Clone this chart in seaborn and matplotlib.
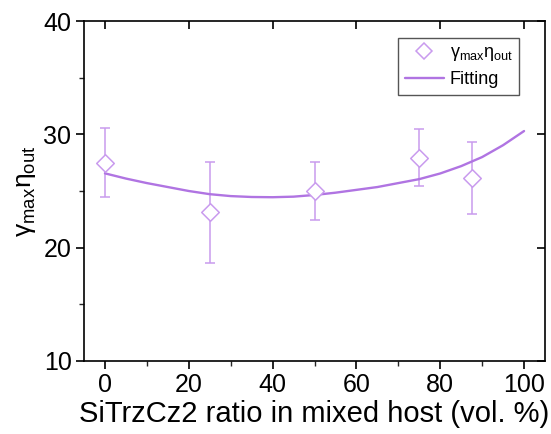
import matplotlib
matplotlib.use("Agg")
import matplotlib.pyplot as plt
import seaborn as sns
import pandas as pd
from matplotlib.lines import Line2D
from matplotlib.ticker import MultipleLocator

# data
ratio = [0, 25, 50, 75, 87.5]
gamma_eta = [27.5, 23.1, 25.0, 27.95, 26.15]
err = [3.05, 4.5, 2.6, 2.5, 3.2]

fit_x = [0, 5, 10, 15, 20, 25, 30, 35, 40, 45, 50, 55, 60, 65, 70, 75, 80, 85, 90, 95, 100]
fit_y = [26.56, 26.1, 25.7, 25.35, 25.0, 24.72, 24.55, 24.47, 24.45, 24.5, 24.65,
         24.85, 25.1, 25.35, 25.7, 26.05, 26.55, 27.2, 28.0, 29.05, 30.3]

x_ticks = [0, 20, 40, 60, 80, 100]
y_ticks = [10, 20, 30, 40]

sns.set_style("ticks")
plt.rcParams["font.family"] = ["Liberation Sans", "DejaVu Sans"]
plt.rcParams["mathtext.default"] = "regular"
plt.rcParams["text.color"] = "black"
plt.rcParams["axes.labelcolor"] = "black"

line_color = "#B074E2"
point_color = "#C99BEE"

fig = plt.figure(figsize=(5.51, 4.34), dpi=100)
ax = fig.add_axes([84 / 551, 1 - 360.7 / 434, (545 - 84) / 551, (360.7 - 21.3) / 434])

df_fit = pd.DataFrame({"x": fit_x, "y": fit_y})
df_pts = pd.DataFrame({"x": ratio, "y": gamma_eta, "e": err})

ax.errorbar(df_pts["x"], df_pts["y"], yerr=df_pts["e"], fmt="none",
            ecolor=point_color, elinewidth=1.1, capsize=3.5, capthick=1.1, zorder=2)
sns.lineplot(data=df_fit, x="x", y="y", ax=ax, color=line_color, lw=1.7, zorder=3)
sns.scatterplot(data=df_pts, x="x", y="y", ax=ax, marker="D", s=80,
                facecolor="white", edgecolor=point_color, linewidth=1.1, zorder=4)

ax.set_xlim(-5, 105)
ax.set_ylim(10, 40)
ax.set_xticks(x_ticks)
ax.set_yticks(y_ticks)
ax.xaxis.set_minor_locator(MultipleLocator(10))
ax.yaxis.set_minor_locator(MultipleLocator(5))
ax.tick_params(axis="both", which="major", direction="out", length=6, width=1.2,
               labelsize=18, colors="black", pad=3, top=False, right=False)
ax.tick_params(axis="both", which="minor", direction="out", length=3.5, width=1.0,
               top=False, right=False)
for spine in ax.spines.values():
    spine.set_visible(True)
    spine.set_linewidth(1.2)
    spine.set_color("black")

# mirrored inward ticks on top and right (overlay axes with transparent patch)
over = fig.add_axes(ax.get_position(), facecolor="none", zorder=5)
over.set_xlim(ax.get_xlim())
over.set_ylim(ax.get_ylim())
over.set_xticks(x_ticks)
over.set_yticks(y_ticks)
over.tick_params(axis="both", which="major", direction="in", length=6, width=1.2,
                 color="black", top=True, right=True, bottom=False, left=False,
                 labeltop=False, labelright=False, labelbottom=False, labelleft=False)
over.tick_params(axis="both", which="minor", top=False, right=False,
                 bottom=False, left=False)
for spine in over.spines.values():
    spine.set_visible(False)

ax.set_xlabel("SiTrzCz2 ratio in mixed host (vol. %)", fontsize=21, labelpad=2,
              color="black")
ax.set_ylabel(r"$\gamma_{max}\eta_{out}$", fontsize=19, labelpad=4, color="black")

handles = [
    Line2D([], [], marker="D", linestyle="none", markersize=8,
           markerfacecolor="white", markeredgecolor=point_color, markeredgewidth=1.1),
    Line2D([], [], color=line_color, lw=1.7),
]
labels = [r"$\gamma_{max}\eta_{out}$", "Fitting"]
leg = ax.legend(handles, labels, loc="upper right", fontsize=13, frameon=True,
                fancybox=False, edgecolor="#555555", framealpha=1,
                bbox_to_anchor=(0.944, 0.951), borderaxespad=0,
                handlelength=2.2, handletextpad=0.3, borderpad=0.35,
                labelspacing=0.45)
leg.get_frame().set_linewidth(1.0)
for t in leg.get_texts():
    t.set_color("black")

fig.savefig("out.png", dpi=100)
